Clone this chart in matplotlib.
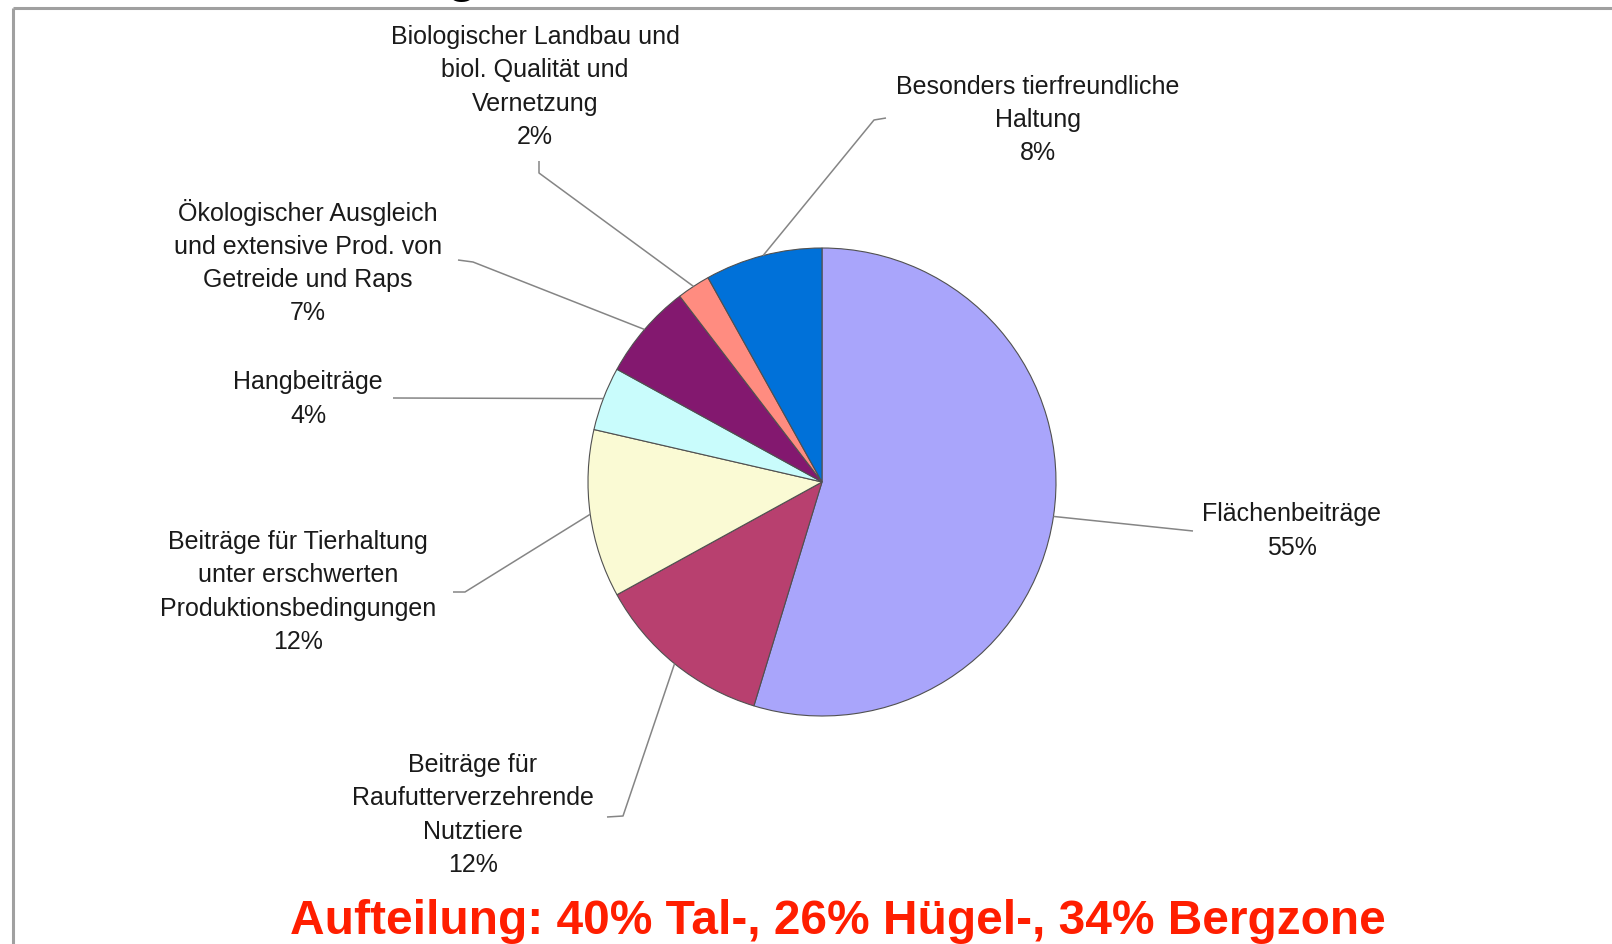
import numpy as np
import matplotlib
matplotlib.use("Agg")
import matplotlib.pyplot as plt

# ---- data ----
categories = [
    "Flächenbeiträge",
    "Beiträge für\nRaufutterverzehrende\nNutztiere",
    "Beiträge für Tierhaltung\nunter erschwerten\nProduktionsbedingungen",
    "Hangbeiträge",
    "Ökologischer Ausgleich\nund extensive Prod. von\nGetreide und Raps",
    "Biologischer Landbau und\nbiol. Qualität und\nVernetzung",
    "Besonders tierfreundliche\nHaltung",
]
shares = [54.7, 12.3, 11.6, 4.4, 6.6, 2.3, 8.1]
colors = ["#A9A5FB", "#B8406F", "#FAFAD4", "#C9FCFC", "#83186F", "#FF8C80", "#0071D9"]
footer = "Aufteilung: 40% Tal-, 26% Hügel-, 34% Bergzone"

# ---- layout (pixel coordinates, y downwards) ----
W, H = 1612, 944
center = (822, 482)
radius = 234
# label anchor (text centre), leader elbow, leader end
label_pos = [(1292, 531), (473, 815), (298, 592), (308, 399), (308, 262), (535, 87), (1038, 120)]
elbow = [(1193, 531), (623, 816), (465, 592), (393, 398), (473, 262), (539, 173), (874, 120)]
lend = [(1193, 531), (607, 817), (453, 592), (393, 398), (458, 260), (539, 161), (886, 118)]

fig = plt.figure(figsize=(W / 100, H / 100), dpi=100)
ax = fig.add_axes([0, 0, 1, 1])

wedges, _ = ax.pie(shares, colors=colors, startangle=-90, counterclock=True,
                   center=center, radius=radius, frame=True,
                   wedgeprops=dict(edgecolor="#505050", linewidth=0.8))
ax.set_xlim(0, W)
ax.set_ylim(H, 0)
ax.set_aspect("equal")
ax.axis("off")

for i, w in enumerate(wedges):
    th = np.deg2rad((w.theta1 + w.theta2) / 2)
    sx = center[0] + radius * np.cos(th)
    sy = center[1] + radius * np.sin(th)
    ax.plot([sx, elbow[i][0], lend[i][0]], [sy, elbow[i][1], lend[i][1]],
            color="#858585", lw=1.1, solid_capstyle="butt", zorder=1)
    txt = f"{categories[i]}\n{shares[i]:.0f}%"
    ax.text(label_pos[i][0], label_pos[i][1], txt, ha="center", va="center",
            multialignment="center", fontsize=18, family="Liberation Sans",
            color="#1a1a1a", linespacing=1.48)

# footer
ax.text(838, 922, footer, ha="center", va="center", fontsize=34.5,
        family="Liberation Sans", fontweight="bold", color="#FF1E00")

# cut-off descender of the slide title above the frame
ax.text(462, -8, "g", ha="center", va="baseline", fontsize=36,
        family="Liberation Sans", fontweight="bold", color="black", clip_on=True)

# frame border
ax.plot([13, W], [8, 8], color="#a0a0a0", lw=2.2, solid_capstyle="butt", clip_on=False)
ax.plot([13, 13], [8, H], color="#a0a0a0", lw=2.2, solid_capstyle="butt", clip_on=False)

fig.savefig("out.png", dpi=100, facecolor="white")
